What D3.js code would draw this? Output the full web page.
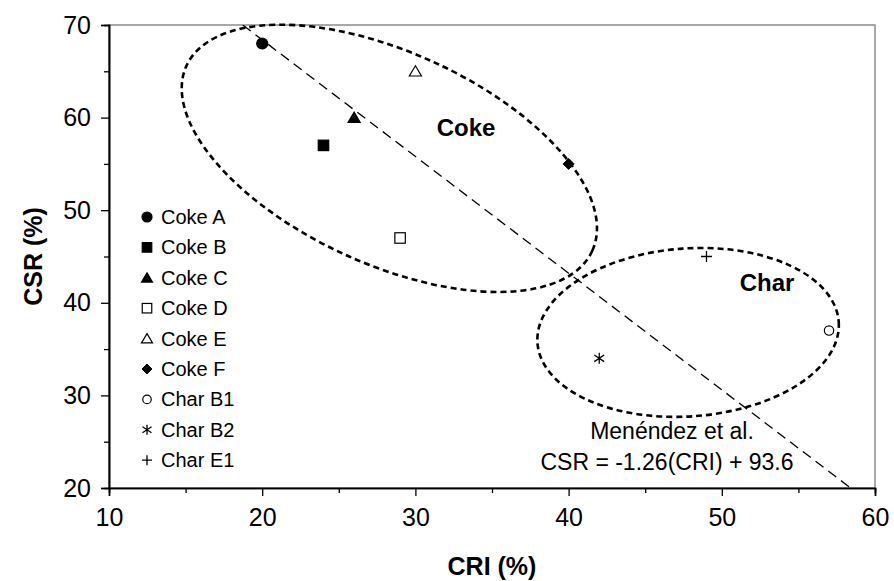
<!DOCTYPE html>
<html>
<head>
<meta charset="utf-8">
<script src="https://cdn.jsdelivr.net/npm/d3@7"></script>
<style>
  html, body { margin: 0; padding: 0; background: #fff; }
  svg { display: block; font-family: Arial, "Liberation Sans", Helvetica, sans-serif; }
</style>
</head>
<body>
<svg id="chart" width="894" height="581"></svg>
<script>
// Samples: CRI (%) and CSR (%)
const names   = ["Coke A", "Coke B", "Coke C", "Coke D", "Coke E", "Coke F", "Char B1", "Char B2", "Char E1"];
const symbols = ["circle", "square", "triangle", "squareOpen", "triangleOpen", "diamond", "circleOpen", "asterisk", "plus"];
const cri     = [20, 24, 26, 29, 30, 40, 57, 42, 49];
const csr     = [68, 57, 60, 47, 65, 55, 37, 34, 45];

// Axis ticks
const xTicks = [10, 20, 30, 40, 50, 60];
const yTicks = [20, 30, 40, 50, 60, 70];
const xMinor = [15, 25, 35, 45, 55];
const yMinor = [25, 35, 45, 55, 65];

// Menéndez et al. correlation: CSR = slope * CRI + intercept
const fitSlope = -1.26;
const fitIntercept = 93.6;

// Group outlines (centre in data units)
const groupNames = ["Coke", "Char"];
const groupCx = [28.3, 47.8];
const groupCy = [55.6, 36.8];

const svg = d3.select("#chart");
const W = 894, H = 581;
const m = { left: 109, top: 25, right: 19, bottom: 93 };
const pw = W - m.left - m.right, ph = H - m.top - m.bottom;

const x = d3.scaleLinear().domain([10, 60]).range([m.left, m.left + pw]);
const y = d3.scaleLinear().domain([20, 70]).range([m.top + ph, m.top]);

// Plot-area border (top / right in grey)
svg.append("rect")
  .attr("x", m.left).attr("y", m.top).attr("width", pw).attr("height", ph)
  .attr("fill", "none").attr("stroke", "#8c8c8c").attr("stroke-width", 1.5);

// Axes
const xAxis = svg.append("g").attr("transform", `translate(0,${m.top + ph})`)
  .call(d3.axisBottom(x).tickValues(xTicks).tickSize(8).tickPadding(12).tickFormat(d3.format("d")));
const xAxisMinor = svg.append("g").attr("transform", `translate(0,${m.top + ph})`)
  .call(d3.axisBottom(x).tickValues(xMinor).tickSize(5).tickFormat(""));
const yAxis = svg.append("g").attr("transform", `translate(${m.left},0)`)
  .call(d3.axisLeft(y).tickValues(yTicks).tickSize(8).tickPadding(10).tickFormat(d3.format("d")));
const yAxisMinor = svg.append("g").attr("transform", `translate(${m.left},0)`)
  .call(d3.axisLeft(y).tickValues(yMinor).tickSize(5).tickFormat(""));

[xAxis, xAxisMinor, yAxis, yAxisMinor].forEach(g => {
  g.select(".domain").attr("stroke", "#000").attr("stroke-width", 1.6);
  g.selectAll(".tick line").attr("stroke", "#000").attr("stroke-width", 1.3);
  g.selectAll(".tick text").attr("fill", "#000").style("font-size", "25px")
    .style("font-family", "Arial, 'Liberation Sans', sans-serif");
});

// Axis titles
svg.append("text")
  .attr("x", x(35)).attr("y", 575)
  .attr("text-anchor", "middle")
  .style("font-size", "25px").style("font-weight", "bold")
  .text("CRI (%)");
svg.append("text")
  .attr("transform", `translate(42,${y(45)}) rotate(-90)`)
  .attr("text-anchor", "middle")
  .style("font-size", "25px").style("font-weight", "bold")
  .text("CSR (%)");

// Correlation line, clipped to the plot area
svg.append("clipPath").attr("id", "plotClip")
  .append("rect").attr("x", m.left).attr("y", m.top).attr("width", pw).attr("height", ph);
const fitX0 = (70 - fitIntercept) / fitSlope;
const fitX1 = (20 - fitIntercept) / fitSlope;
svg.append("line")
  .attr("clip-path", "url(#plotClip)")
  .attr("x1", x(fitX0)).attr("y1", y(fitSlope * fitX0 + fitIntercept))
  .attr("x2", x(fitX1)).attr("y2", y(fitSlope * fitX1 + fitIntercept))
  .attr("stroke", "#000").attr("stroke-width", 1.3)
  .attr("stroke-dasharray", "10,6");

// Group outlines
const outlines = [
  { rx: 223, ry: 106, angle: 24.5 },
  { rx: 151, ry: 84, angle: -4 }
];
outlines.forEach((o, i) => {
  svg.append("ellipse")
    .attr("transform", `translate(${x(groupCx[i])},${y(groupCy[i])}) rotate(${o.angle})`)
    .attr("rx", o.rx).attr("ry", o.ry)
    .attr("fill", "none").attr("stroke", "#000")
    .attr("stroke-width", 2.6).attr("stroke-dasharray", "6,4");
});

// Group labels
svg.append("text").attr("x", 466).attr("y", 136).attr("text-anchor", "middle")
  .style("font-size", "24px").style("font-weight", "bold").text(groupNames[0]);
svg.append("text").attr("x", 767).attr("y", 291).attr("text-anchor", "middle")
  .style("font-size", "24px").style("font-weight", "bold").text(groupNames[1]);

// Correlation annotation
svg.append("text").attr("x", 672).attr("y", 439).attr("text-anchor", "middle")
  .style("font-size", "23px").text("Menéndez et al.");
svg.append("text").attr("x", 667).attr("y", 470).attr("text-anchor", "middle")
  .style("font-size", "23px")
  .text(`CSR = ${fitSlope}(CRI) + ${fitIntercept}`);

// Marker drawing
function marker(g, type, cx, cy, s) {
  const h = s / 2;
  const filled = !/Open/.test(type);
  switch (type) {
    case "circle":
    case "circleOpen":
      g.append("circle").attr("cx", cx).attr("cy", cy).attr("r", type === "circle" ? h : h * 0.85)
        .attr("fill", filled ? "#000" : "#fff").attr("stroke", "#000").attr("stroke-width", 1.2);
      break;
    case "square":
    case "squareOpen":
      g.append("rect").attr("x", cx - h * 0.95).attr("y", cy - h * 0.95)
        .attr("width", s * 0.95).attr("height", s * 0.95)
        .attr("fill", filled ? "#000" : "#fff").attr("stroke", "#000").attr("stroke-width", 1.2);
      break;
    case "triangle":
    case "triangleOpen":
      g.append("path")
        .attr("d", `M${cx},${cy - h}L${cx + h * 1.1},${cy + h * 0.85}L${cx - h * 1.1},${cy + h * 0.85}Z`)
        .attr("fill", filled ? "#000" : "#fff").attr("stroke", "#000").attr("stroke-width", 1.2);
      break;
    case "diamond":
      g.append("path")
        .attr("d", `M${cx},${cy - h}L${cx + h},${cy}L${cx},${cy + h}L${cx - h},${cy}Z`)
        .attr("fill", "#000").attr("stroke", "#000").attr("stroke-width", 1);
      break;
    case "asterisk":
      g.append("path")
        .attr("d", `M${cx},${cy - h}V${cy + h}M${cx - h * 0.9},${cy - h * 0.6}L${cx + h * 0.9},${cy + h * 0.6}M${cx - h * 0.9},${cy + h * 0.6}L${cx + h * 0.9},${cy - h * 0.6}`)
        .attr("fill", "none").attr("stroke", "#000").attr("stroke-width", 1.3);
      break;
    case "plus":
      g.append("path")
        .attr("d", `M${cx},${cy - h}V${cy + h}M${cx - h},${cy}H${cx + h}`)
        .attr("fill", "none").attr("stroke", "#000").attr("stroke-width", 1.3);
      break;
  }
}

// Data points
const pts = svg.append("g");
names.forEach((n, i) => marker(pts, symbols[i], x(cri[i]), y(csr[i]), 11));

// Legend
const lg = svg.append("g");
const lgX = 147, lgY0 = 217, lgStep = 30.4;
names.forEach((n, i) => {
  const cy = lgY0 + i * lgStep;
  marker(lg, symbols[i], lgX, cy, 10);
  lg.append("text").attr("x", lgX + 14).attr("y", cy + 7)
    .style("font-size", "20px").text(n);
});
</script>
</body>
</html>
